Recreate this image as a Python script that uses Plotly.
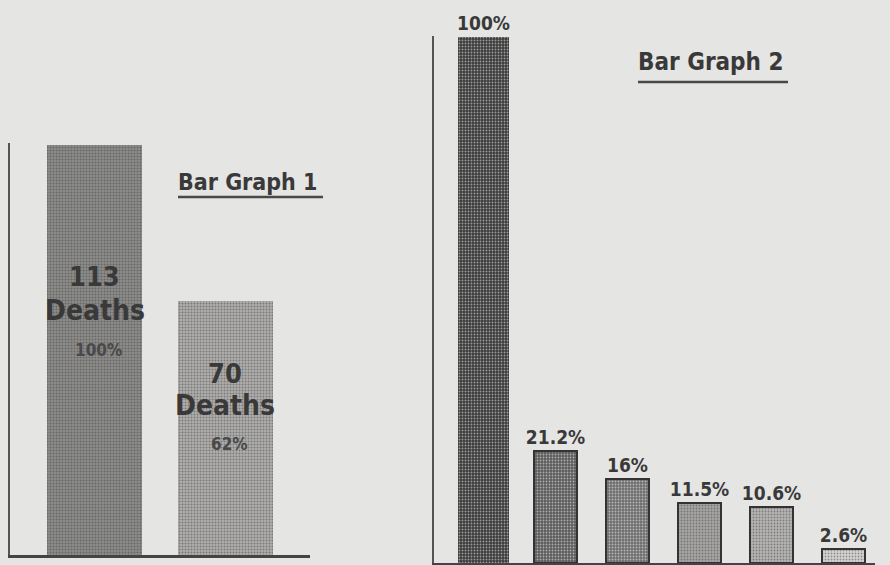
import plotly.graph_objects as go

# ---- data ----
g1_categories = ["Group A", "Group B"]
g1_deaths = [113, 70]
g1_percent = [100, 62]
g1_colors = ["#8c8b8a", "#afaead"]

g2_categories = ["C1", "C2", "C3", "C4", "C5", "C6"]
g2_values = [100, 21.2, 16, 11.5, 10.6, 2.6]
g2_labels = ["100%", "21.2%", "16%", "11.5%", "10.6%", "2.6%"]
g2_colors = ["#3c3b3b", "#5c5b5b", "#6f6e6e", "#a6a5a4", "#b6b5b4", "#d6d5d3"]
g2_widths = [0.71, 0.61, 0.61, 0.61, 0.61, 0.61]

BG = "#e5e5e3"
INK = "#3a3939"
FONT = "DejaVu Sans Condensed, DejaVu Sans, sans-serif"

fig = go.Figure()

fig.add_trace(go.Bar(
    x=g1_categories, y=g1_deaths, xaxis="x", yaxis="y",
    width=0.728,
    marker=dict(color=g1_colors, line=dict(width=0),
                pattern=dict(shape=".", size=3, solidity=0.35,
                             fgcolor="#6e6d6c", fillmode="overlay")),
    hoverinfo="skip", showlegend=False,
))

fig.add_trace(go.Bar(
    x=g2_categories, y=g2_values, xaxis="x2", yaxis="y2",
    width=g2_widths,
    text=g2_labels, textposition="outside", cliponaxis=False,
    constraintext="none",
    textfont=dict(family=FONT, size=19, color=INK, weight="bold"),
    marker=dict(color=g2_colors, line=dict(width=[0, 2, 2, 2, 2, 2], color="#333333"),
                pattern=dict(shape=".", size=3, solidity=0.3,
                             fgcolor="#444444", fillmode="overlay")),
    hoverinfo="skip", showlegend=False,
))

annotations = []
# inside labels for graph 1 (heights as fractions of the axis maximum)
g1_label_y = [(0.675, 0.594, 0.498), (0.441, 0.362, 0.270)]
ymax1 = 113.55
for cat, d, p, (f1, f2, f3) in zip(g1_categories, g1_deaths, g1_percent, g1_label_y):
    annotations.append(dict(x=cat, y=f1 * ymax1, xref="x", yref="y", text=f"<b>{d}</b>",
                            showarrow=False, font=dict(family=FONT, size=27, color=INK)))
    annotations.append(dict(x=cat, y=f2 * ymax1, xref="x", yref="y", text="<b>Deaths</b>",
                            showarrow=False, font=dict(family=FONT, size=28, color=INK)))
    annotations.append(dict(x=cat, y=f3 * ymax1, xref="x", yref="y", text=f"<b>{p}%</b>",
                            xshift=4, showarrow=False, font=dict(family=FONT, size=17, color="#4a4949")))

# titles
annotations.append(dict(x=176 / 890, y=1 - 182 / 565, xref="paper", yref="paper",
                        xanchor="left", yanchor="middle", text="<b>Bar Graph 1</b>",
                        showarrow=False, font=dict(family=FONT, size=23, color=INK)))
annotations.append(dict(x=636 / 890, y=1 - 62 / 565, xref="paper", yref="paper",
                        xanchor="left", yanchor="middle", text="<b>Bar Graph 2</b>",
                        showarrow=False, font=dict(family=FONT, size=24, color=INK)))

shapes = [
    dict(type="line", xref="paper", yref="paper", x0=178 / 890, x1=323 / 890,
         y0=1 - 197 / 565, y1=1 - 197 / 565, line=dict(color="#4a4949", width=2.5)),
    dict(type="line", xref="paper", yref="paper", x0=638 / 890, x1=788 / 890,
         y0=1 - 82 / 565, y1=1 - 82 / 565, line=dict(color="#4a4949", width=2.5)),
]

fig.update_layout(
    width=890, height=565,
    margin=dict(l=0, r=0, t=0, b=0),
    paper_bgcolor=BG, plot_bgcolor=BG,
    bargap=0,
    annotations=annotations, shapes=shapes,
    xaxis=dict(domain=[10 / 890, 310 / 890], range=[-0.651, 1.648],
               showline=True, linecolor="#444444", linewidth=3,
               showticklabels=False, ticks="", showgrid=False, zeroline=False),
    yaxis=dict(domain=[10 / 565, 422 / 565], range=[0, ymax1],
               showline=True, linecolor="#555555", linewidth=2,
               showticklabels=False, ticks="", showgrid=False, zeroline=False,
               anchor="x"),
    xaxis2=dict(domain=[434 / 890, 875 / 890], range=[-0.6875, 5.4375],
                showline=True, linecolor="#444444", linewidth=3,
                showticklabels=False, ticks="", showgrid=False, zeroline=False,
                anchor="y2"),
    yaxis2=dict(domain=[2 / 565, 529 / 565], range=[0, 100.19],
                showline=True, linecolor="#555555", linewidth=2,
                showticklabels=False, ticks="", showgrid=False, zeroline=False,
                anchor="x2"),
)

fig.write_html("out.html",
               config={"displayModeBar": False},
               post_script="document.body.style.margin='0';document.body.style.background='%s';" % BG)
